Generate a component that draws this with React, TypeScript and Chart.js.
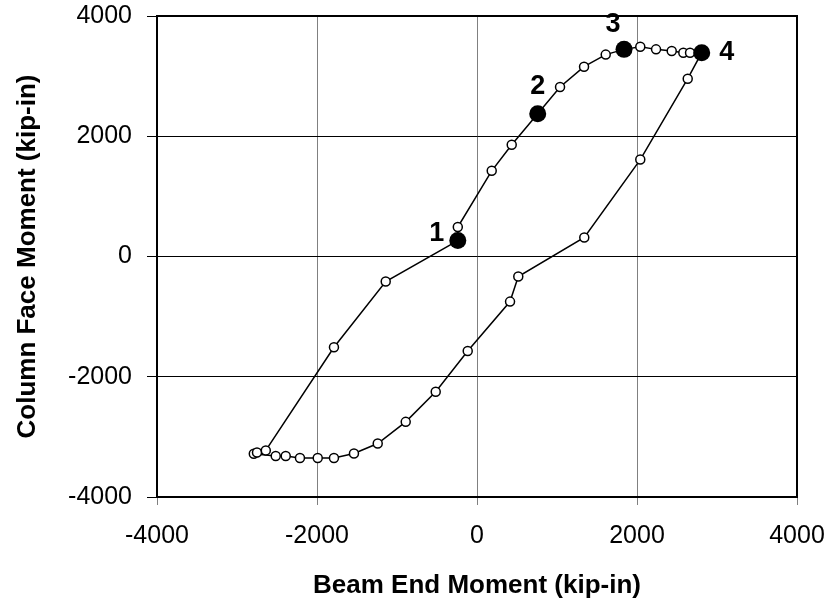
import React, { useEffect, useRef } from "react";
import { Chart, registerables } from "chart.js";

Chart.register(...registerables);

// Hysteresis loop, in drawing order (kip-in)
const beamEndMoment = [
  -240, -240, 184, 434, 759, 1038, 1338, 1609, 1838, 2041, 2238, 2434, 2579, 2663, 2809,
  2634, 2041, 1341, 516, 413, -116, -516, -891, -1241, -1538, -1788, -1991, -2213, -2391,
  -2516, -2790, -2750, -2640, -1788, -1141, -240,
];
const columnFaceMoment = [
  265, 490, 1425, 1858, 2375, 2820, 3157, 3358, 3445, 3490, 3445, 3417, 3390, 3390, 3390,
  2957, 1612, 317, -333, -750, -1572, -2250, -2750, -3110, -3277, -3350, -3350, -3350, -3317,
  -3317, -3280, -3260, -3225, -1510, -417, 265,
];

// Highlighted states
const markerX = [-240, 759, 1838, 2809];
const markerY = [265, 2375, 3445, 3390];
const markerLabels = ["1", "2", "3", "4"];

const axisMin = -4000;
const axisMax = 4000;
const axisStep = 2000;

const xTitle = "Beam End Moment (kip-in)";
const yTitle = "Column Face Moment (kip-in)";

const FONT = "'Liberation Sans', Arial, sans-serif";

export default function App() {
  const ref = useRef<HTMLCanvasElement | null>(null);

  useEffect(() => {
    const canvas = ref.current;
    if (!canvas) return;

    const labelOffsets = [
      [-21, -7],
      [0, -27],
      [-11, -25],
      [25, 0],
    ];

    const overlay = {
      id: "overlay",
      afterDatasetsDraw(chart: any) {
        const { ctx, chartArea, scales } = chart;
        ctx.save();
        ctx.strokeStyle = "#000";
        ctx.lineWidth = 2;
        ctx.strokeRect(
          chartArea.left,
          chartArea.top,
          chartArea.right - chartArea.left,
          chartArea.bottom - chartArea.top
        );
        ctx.fillStyle = "#000";
        ctx.font = `bold 27px ${FONT}`;
        ctx.textAlign = "center";
        ctx.textBaseline = "middle";
        markerLabels.forEach((lbl, i) => {
          const px = scales.x.getPixelForValue(markerX[i]);
          const py = scales.y.getPixelForValue(markerY[i]);
          ctx.fillText(lbl, px + labelOffsets[i][0], py + labelOffsets[i][1]);
        });
        ctx.restore();
      },
    };

    const noPad = (axis: any) => {
      axis.paddingLeft = 0;
      axis.paddingRight = 0;
      axis.paddingTop = 0;
      axis.paddingBottom = 0;
    };

    const chart = new Chart(canvas, {
      type: "scatter",
      data: {
        datasets: [
          {
            label: "states",
            data: markerX.map((x, i) => ({ x, y: markerY[i] })),
            showLine: false,
            pointRadius: 8.5,
            pointBackgroundColor: "#000",
            pointBorderColor: "#000",
            pointBorderWidth: 0,
            order: 0,
          },
          {
            label: "loop",
            data: beamEndMoment.map((x, i) => ({ x, y: columnFaceMoment[i] })),
            showLine: true,
            borderColor: "#000",
            borderWidth: 1.5,
            pointRadius: 4.5,
            pointBackgroundColor: "#fff",
            pointBorderColor: "#000",
            pointBorderWidth: 1.5,
            order: 1,
          },
        ],
      },
      options: {
        responsive: false,
        animation: false,
        layout: { padding: { top: 16, right: 36, left: 0, bottom: 0 } },
        plugins: {
          legend: { display: false },
          tooltip: { enabled: false },
        },
        scales: {
          x: {
            type: "linear",
            min: axisMin,
            max: axisMax,
            afterFit: (axis: any) => {
              axis.height = 111;
              noPad(axis);
            },
            ticks: {
              stepSize: axisStep,
              color: "#000",
              font: { family: FONT, size: 25 },
              padding: 16,
              callback: (v: any) => String(v),
            },
            grid: { color: "#808080", lineWidth: 1, tickLength: 8 },
            border: { display: true, color: "#000", width: 2 },
            title: {
              display: true,
              text: xTitle,
              color: "#000",
              font: { family: FONT, size: 26, weight: "bold", lineHeight: 1.2 },
              padding: { top: 0, bottom: 7 },
            },
          },
          y: {
            type: "linear",
            min: axisMin,
            max: axisMax,
            afterFit: (axis: any) => {
              axis.width = 157;
              noPad(axis);
            },
            ticks: {
              stepSize: axisStep,
              color: "#000",
              font: { family: FONT, size: 25 },
              padding: 15,
              callback: (v: any) => String(v),
            },
            grid: { color: "#000", lineWidth: 1, tickLength: 10 },
            border: { display: true, color: "#000", width: 2 },
            title: {
              display: true,
              text: yTitle,
              color: "#000",
              font: { family: FONT, size: 26, weight: "bold", lineHeight: 1.2 },
              padding: { top: 12, bottom: 0 },
            },
          },
        },
      },
      plugins: [overlay],
    });

    return () => chart.destroy();
  }, []);

  return (
    <div style={{ position: "absolute", left: 0, top: 0, width: 833, height: 608, background: "#fff" }}>
      <canvas ref={ref} width={833} height={608} />
    </div>
  );
}
